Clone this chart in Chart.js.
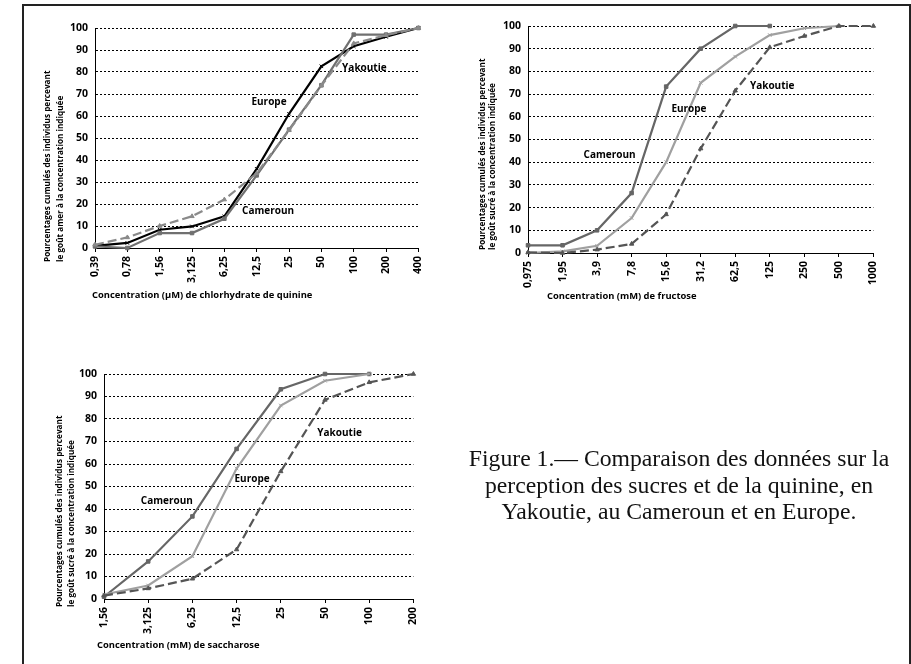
<!DOCTYPE html>
<html>
<head>
<meta charset="utf-8">
<script src="https://cdn.jsdelivr.net/npm/chart.js@4.4.0/dist/chart.umd.min.js"></script>
<style>
    body { margin: 0; width: 911px; height: 664px; overflow: hidden; background: #fff; position: relative; }
    #frame { position: absolute; left: 22px; top: 4px; width: 885px; height: 720px; border: 2px solid #222; }
    canvas { position: absolute; }
    #caption {
        position: absolute; left: 429px; top: 445px; width: 500px; text-align: center;
        font-family: "Liberation Serif", serif; font-size: 23.7px; line-height: 26.5px; color: #111;
    }
</style>
</head>
<body>
<div id="frame"></div>
<canvas id="quinineChart" width="405" height="300" style="left:30px;top:10px"></canvas>
<canvas id="fructoseChart" width="420" height="300" style="left:470px;top:10px"></canvas>
<canvas id="saccharoseChart" width="390" height="300" style="left:40px;top:355px"></canvas>
<div id="caption">Figure 1.— Comparaison des données sur la<br>perception des sucres et de la quinine, en<br>Yakoutie, au Cameroun et en Europe.</div>

<script>
// Données (pourcentages cumulés)
const quinineLabels = ['0,39', '0,78', '1,56', '3,125', '6,25', '12,5', '25', '50', '100', '200', '400'];
const quinineEurope = [1, 2.3, 8.3, 9.8, 14.4, 36, 61, 82.6, 91.7, 96, 100];
const quinineCameroun = [0.7, 0, 6.8, 6.8, 13.3, 33, 53.8, 74, 97, 97, 100];
const quinineYakoutie = [1.5, 4.8, 10, 14.4, 22, 34, 53.5, 73.8, 93, 96.7, 100];

const fructoseLabels = ['0,975', '1,95', '3,9', '7,8', '15,6', '31,2', '62,5', '125', '250', '500', '1000'];
const fructoseCameroun = [3.4, 3.4, 10, 26.4, 73.3, 90, 100, 100, null, null, null];
const fructoseEurope = [0, 0.7, 3.2, 15.4, 40, 75, 86.5, 96, 99, 100, null];
const fructoseYakoutie = [0.3, 0, 1.5, 4, 17, 46, 71.5, 90.6, 95.6, 100, 100];

const saccharoseLabels = ['1,56', '3,125', '6,25', '12,5', '25', '50', '100', '200'];
const saccharoseCameroun = [1, 16.7, 36.7, 66.7, 93.2, 100, 100, null];
const saccharoseEurope = [2, 6, 19, 58, 86, 97, 100, null];
const saccharoseYakoutie = [1.5, 4.7, 9, 22, 56.7, 88.5, 96.3, 100];

const yTicks = [0, 10, 20, 30, 40, 50, 60, 70, 80, 90, 100];

const FONT = '"Open Sans", "DejaVu Sans", sans-serif';
Chart.defaults.font.family = FONT;
Chart.defaults.color = '#000';

// Plugin qui écrit les titres des axes et les noms des courbes
const annotations = {
    id: 'annotations',
    afterDraw(chart, args, opts) {
        const ctx = chart.ctx;
        const area = chart.chartArea;
        const x = chart.scales.x;
        const y = chart.scales.y;
        ctx.save();
        ctx.fillStyle = '#000';
        ctx.textBaseline = 'middle';

        // noms des séries
        ctx.font = 'bold 10px ' + FONT;
        ctx.textAlign = 'center';
        opts.names.forEach(n => {
            ctx.fillText(n.text, x.getPixelForValue(n.at[0]), y.getPixelForValue(n.at[1]));
        });

        // titre de l'axe x
        ctx.font = 'bold 9.4px ' + FONT;
        ctx.textAlign = 'left';
        ctx.fillText(opts.xTitle, area.left + opts.xTitleAt[0], area.bottom + opts.xTitleAt[1]);

        // titre de l'axe y (deux lignes, tourné)
        ctx.font = 'bold 8.2px ' + FONT;
        opts.yTitle.forEach((line, i) => {
            ctx.save();
            ctx.translate(area.left + opts.yTitleX[i], area.bottom + opts.yTitleY);
            ctx.rotate(-Math.PI / 2);
            ctx.fillText(line, 0, 0);
            ctx.restore();
        });
        ctx.restore();
    }
};

// Hàm tạo một series
function makeLine(label, data, color, dashed, pointStyle) {
    return {
        label: label,
        data: data,
        borderColor: color,
        backgroundColor: color,
        borderWidth: 2.2,
        borderDash: dashed ? [9, 4] : [],
        pointStyle: pointStyle,
        pointRadius: 2.5,
        pointBorderWidth: 1,
        tension: 0,
        clip: false
    };
}

// Hàm vẽ một biểu đồ
function renderChart(id, labels, datasets, box, notes) {
    const ctx = document.getElementById(id).getContext('2d');
    return new Chart(ctx, {
        type: 'line',
        data: { labels: labels, datasets: datasets },
        options: {
            responsive: false,
            animation: false,
            layout: { padding: { left: 0, right: box.right, top: box.top, bottom: 0 } },
            plugins: {
                legend: { display: false },
                tooltip: { enabled: false },
                annotations: notes
            },
            scales: {
                x: {
                    afterFit: s => { s.height = box.xHeight; },
                    grid: { display: true, drawOnChartArea: false, drawTicks: true, tickLength: 4, color: '#000' },
                    border: { display: true, color: '#000', width: 1 },
                    ticks: {
                        autoSkip: false, minRotation: 90, maxRotation: 90, padding: 4,
                        font: { size: 10.5, weight: 'bold' }
                    }
                },
                y: {
                    min: 0,
                    max: 100,
                    afterFit: s => { s.width = box.yWidth; },
                    afterBuildTicks: s => { s.ticks = yTicks.map(v => ({ value: v })); },
                    grid: {
                        drawTicks: false,
                        color: c => (c.tick && c.tick.value === 0) ? 'rgba(0,0,0,0)' : '#000',
                        lineWidth: 1
                    },
                    border: { display: true, color: '#000', width: 1, dash: [2, 2] },
                    ticks: { padding: 7, font: { size: 10.5, weight: 'bold' } }
                }
            }
        },
        plugins: [annotations]
    });
}

const yTitleAmer = ['Pourcentages cumulés des individus percevant', 'le goût amer à la concentration indiquée'];
const yTitleSucre = ['Pourcentages cumulés des individus percevant', 'le goût sucré à la concentration indiquée'];

document.addEventListener('DOMContentLoaded', () => {
    // Quinine
    renderChart('quinineChart', quinineLabels, [
        makeLine('Yakoutie', quinineYakoutie, '#8a8a8a', true, 'triangle'),
        makeLine('Cameroun', quinineCameroun, '#707070', false, 'rect'),
        makeLine('Europe', quinineEurope, '#000000', false, 'crossRot')
    ], { right: 11, top: 18, xHeight: 62, yWidth: 65 }, {
        names: [
            { text: 'Europe', at: [5.38, 66.4] },
            { text: 'Yakoutie', at: [8.33, 81.8] },
            { text: 'Cameroun', at: [5.35, 16.8] }
        ],
        xTitle: 'Concentration (µM) de chlorhydrate de quinine',
        xTitleAt: [-3, 47],
        yTitle: yTitleAmer,
        yTitleX: [-47, -34],
        yTitleY: 14
    });

    // Fructose
    renderChart('fructoseChart', fructoseLabels, [
        makeLine('Yakoutie', fructoseYakoutie, '#555555', true, 'triangle'),
        makeLine('Europe', fructoseEurope, '#a0a0a0', false, 'crossRot'),
        makeLine('Cameroun', fructoseCameroun, '#666666', false, 'rect')
    ], { right: 14, top: 16, xHeight: 57, yWidth: 58 }, {
        names: [
            { text: 'Cameroun', at: [2.36, 43.2] },
            { text: 'Europe', at: [4.66, 63.4] },
            { text: 'Yakoutie', at: [7.07, 73.6] }
        ],
        xTitle: 'Concentration (mM) de fructose',
        xTitleAt: [19, 43],
        yTitle: yTitleSucre,
        yTitleX: [-45, -35],
        yTitleY: -3
    });

    // Saccharose
    renderChart('saccharoseChart', saccharoseLabels, [
        makeLine('Yakoutie', saccharoseYakoutie, '#555555', true, 'triangle'),
        makeLine('Europe', saccharoseEurope, '#a0a0a0', false, 'crossRot'),
        makeLine('Cameroun', saccharoseCameroun, '#666666', false, 'rect')
    ], { right: 15, top: 19, xHeight: 56, yWidth: 64 }, {
        names: [
            { text: 'Cameroun', at: [1.42, 43.6] },
            { text: 'Europe', at: [3.35, 53.3] },
            { text: 'Yakoutie', at: [5.33, 73.8] }
        ],
        xTitle: 'Concentration (mM) de saccharose',
        xTitleAt: [-7, 46],
        yTitle: yTitleSucre,
        yTitleX: [-44, -32],
        yTitleY: 8
    });
});
</script>
</body>
</html>
